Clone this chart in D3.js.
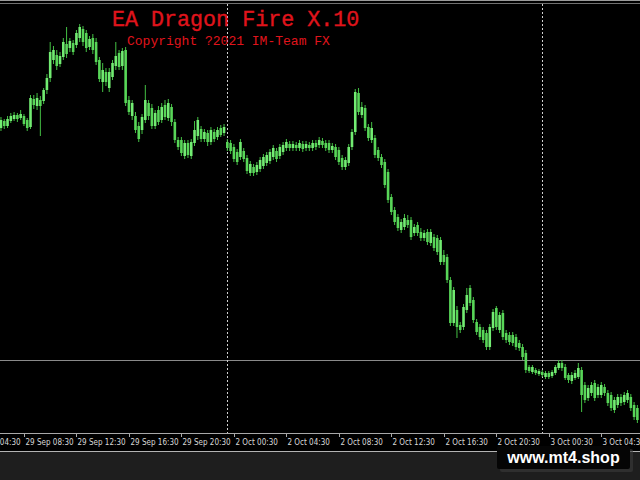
<!DOCTYPE html>
<html><head><meta charset="utf-8">
<script src="https://cdn.jsdelivr.net/npm/d3@7"></script>
<style>html,body{margin:0;padding:0;background:#000;overflow:hidden}</style>
</head><body>
<svg id="chart" width="640" height="480"></svg>
<script>
// ---- data ----
const sessions = [
  {day: "29 Sep", start: "06:45", bars: 69},
  {day: "2 Oct",  start: "00:00", bars: 96},
  {day: "3 Oct",  start: "00:00", bars: 30}
];
const tickLabels = ["29 Sep 04:30","29 Sep 08:30","29 Sep 12:30","29 Sep 16:30","29 Sep 20:30",
  "2 Oct 00:30","2 Oct 04:30","2 Oct 08:30","2 Oct 12:30","2 Oct 16:30","2 Oct 20:30",
  "3 Oct 00:30","3 Oct 04:30"];
const separatorDays = ["2 Oct", "3 Oct"];
const hLineLevel = 1764.0;
const titleText = "EA Dragon Fire X.10";
const subtitleText = "Copyright ?2021 IM-Team FX";
const watermarkText = "www.mt4.shop";

const barOpen = [
1787.2,1787.9,1787.4,1787.9,1788.1,1788.5,1788.2,1788.4,1788.0,1787.3,
1790.1,1789.4,1790.0,1789.9,1791.0,1792.2,1794.0,1794.5,1793.6,1794.3,
1795.6,1795.2,1795.7,1795.5,1796.2,1797.1,1796.7,1795.3,1796.2,1795.8,
1794.0,1791.8,1792.8,1791.2,1792.3,1793.4,1794.7,1793.4,1795.0,1790.0,
1788.4,1788.4,1787.4,1787.0,1788.0,1789.7,1789.2,1787.4,1789.0,1788.0,
1789.5,1788.2,1789.3,1787.8,1786.0,1786.0,1784.4,1785.7,1784.4,1785.7,
1786.4,1787.1,1786.1,1786.7,1785.8,1786.8,1786.3,1787.2,1786.7,1785.8,
1785.7,1785.3,1784.8,1784.3,1784.9,1784.2,1782.7,1783.3,1782.8,1783.1,
1783.4,1783.7,1783.9,1784.3,1784.9,1784.4,1784.8,1785.2,1785.6,1785.2,
1785.5,1785.2,1785.6,1785.2,1785.5,1785.2,1785.7,1785.5,1785.9,1785.7,
1785.7,1785.0,1785.3,1785.0,1784.2,1783.3,1783.7,1785.3,1786.8,1790.7,
1788.5,1789.2,1787.3,1786.0,1786.2,1785.0,1784.3,1783.8,1782.8,1780.3,
1779.0,1778.3,1777.0,1777.3,1778.0,1778.0,1776.7,1777.5,1776.8,1776.2,
1776.8,1775.7,1776.3,1776.2,1773.8,1774.5,1774.3,1772.0,1767.7,1769.0,
1767.5,1767.3,1769.0,1771.2,1770.0,1767.8,1767.3,1767.0,1766.7,1765.3,
1767.2,1769.2,1767.0,1768.7,1766.7,1766.5,1766.5,1766.3,1765.7,1765.3,
1764.7,1763.3,1762.8,1763.0,1762.6,1762.8,1762.3,1762.7,1762.4,1762.7,
1763.2,1763.7,1763.3,1762.5,1761.9,1762.2,1762.3,1763.0,1761.5,1760.2,
1760.7,1761.7,1760.5,1760.5,1761.3,1760.7,1760.5,1759.0,1759.5,1760.3,
1759.8,1760.0,1760.3,1759.5,1759.2];
const barHigh = [
1788.3,1788.1,1788.4,1788.7,1788.8,1788.7,1789.0,1788.6,1788.2,1790.5,
1790.5,1790.7,1790.4,1791.2,1792.6,1795.8,1795.4,1795.0,1794.8,1796.2,
1797.3,1796.2,1796.0,1797.0,1797.6,1797.4,1797.0,1796.4,1796.6,1796.2,
1794.3,1793.7,1793.2,1793.2,1794.0,1795.8,1795.0,1795.2,1795.3,1790.4,
1790.0,1788.8,1787.8,1788.6,1791.5,1790.0,1789.6,1789.0,1789.4,1789.7,
1790.0,1790.1,1789.6,1788.1,1786.3,1786.3,1786.0,1786.0,1786.1,1787.9,
1788.3,1787.4,1787.1,1787.0,1787.3,1787.1,1787.3,1787.5,1787.6,1786.1,
1786.0,1785.6,1785.1,1786.1,1785.2,1784.5,1783.9,1783.6,1783.8,1784.3,
1784.6,1784.8,1785.1,1785.5,1785.2,1785.6,1785.8,1786.1,1785.9,1785.9,
1785.8,1786.0,1785.9,1785.9,1785.8,1786.0,1786.0,1786.3,1786.2,1786.0,
1786.0,1785.7,1785.6,1785.3,1784.5,1784.3,1785.6,1787.1,1791.1,1791.2,
1789.8,1789.5,1787.6,1787.8,1786.5,1785.3,1784.6,1784.1,1783.1,1780.6,
1779.3,1778.6,1778.1,1778.6,1778.5,1778.3,1777.6,1777.8,1777.2,1777.0,
1777.1,1777.1,1776.6,1776.5,1776.3,1775.0,1774.6,1772.3,1771.3,1769.4,
1767.8,1769.6,1771.2,1771.5,1770.3,1768.1,1767.6,1767.3,1767.0,1767.6,
1769.1,1769.4,1768.8,1769.0,1767.0,1766.8,1766.8,1766.6,1766.0,1765.6,
1765.0,1763.5,1763.5,1763.2,1763.1,1763.0,1762.9,1762.9,1763.0,1763.5,
1764.0,1764.0,1763.6,1762.7,1762.8,1763.0,1763.7,1763.3,1761.8,1761.5,
1761.8,1762.0,1761.6,1761.8,1761.6,1761.0,1760.8,1760.3,1760.6,1760.6,
1760.8,1761.0,1760.6,1759.8,1759.5];
const barLow = [
1786.9,1787.1,1787.2,1787.7,1787.9,1787.8,1788.0,1787.4,1786.9,1787.1,
1789.1,1789.0,1786.4,1789.6,1790.6,1791.8,1793.6,1793.0,1793.3,1794.0,
1794.2,1794.8,1794.5,1795.2,1795.8,1795.4,1794.8,1795.0,1794.6,1793.5,
1791.8,1790.8,1791.4,1790.8,1792.0,1793.0,1793.0,1793.0,1789.4,1788.5,
1788.0,1786.7,1785.8,1786.6,1787.7,1788.0,1787.1,1787.1,1787.5,1787.7,
1788.0,1787.9,1787.4,1785.7,1785.0,1784.4,1784.1,1784.2,1784.1,1785.4,
1786.0,1785.8,1785.8,1785.4,1785.5,1785.8,1786.0,1786.3,1786.4,1784.9,
1784.6,1783.8,1783.5,1784.0,1783.8,1782.6,1782.4,1782.4,1782.5,1782.8,
1783.1,1783.4,1783.6,1784.0,1783.8,1784.1,1784.5,1784.9,1784.9,1784.9,
1784.9,1784.9,1784.8,1784.9,1784.9,1784.9,1785.0,1785.2,1785.2,1784.9,
1784.7,1784.7,1784.0,1783.5,1783.0,1783.0,1783.4,1785.0,1786.5,1788.5,
1788.2,1786.9,1785.9,1785.7,1784.2,1783.9,1783.2,1781.2,1779.7,1778.5,
1777.5,1776.9,1776.7,1777.0,1777.2,1776.0,1776.4,1776.4,1775.9,1775.9,
1775.5,1775.4,1774.9,1774.5,1773.5,1773.5,1771.7,1767.4,1767.4,1766.2,
1766.7,1767.0,1768.7,1769.4,1767.7,1766.5,1766.0,1765.7,1765.0,1765.0,
1766.9,1767.0,1766.7,1766.0,1765.7,1765.5,1765.4,1765.0,1764.9,1764.0,
1762.7,1762.7,1762.6,1762.5,1762.4,1762.3,1762.1,1762.1,1762.2,1762.5,
1763.0,1762.9,1762.0,1761.7,1761.6,1762.0,1762.1,1758.8,1759.7,1759.9,
1760.4,1759.9,1760.2,1760.2,1760.4,1759.4,1758.9,1758.7,1759.2,1759.4,
1759.5,1759.7,1758.9,1758.0,1757.7];
const barClose = [
1788.0,1787.4,1788.1,1788.4,1788.5,1788.1,1788.6,1787.6,1787.2,1790.2,
1789.5,1790.2,1789.4,1791.0,1792.2,1794.8,1795.0,1793.4,1794.4,1795.8,
1794.6,1795.9,1794.8,1796.7,1797.3,1795.8,1795.2,1796.1,1795.0,1793.8,
1792.1,1793.0,1791.8,1792.8,1793.7,1794.4,1793.3,1794.9,1789.7,1788.8,
1789.7,1787.0,1786.1,1788.3,1790.0,1788.4,1787.4,1788.7,1787.8,1789.3,
1788.3,1789.7,1787.8,1786.0,1785.3,1784.7,1785.7,1784.5,1785.8,1787.0,
1788.0,1786.1,1786.8,1785.8,1787.0,1786.1,1787.0,1786.5,1787.3,1785.2,
1784.9,1784.1,1783.8,1785.8,1784.1,1782.9,1783.6,1782.7,1783.5,1784.0,
1784.3,1784.5,1784.8,1785.2,1784.1,1785.3,1785.5,1785.8,1785.2,1785.6,
1785.2,1785.7,1785.1,1785.6,1785.2,1785.7,1785.3,1786.0,1785.5,1785.2,
1785.0,1785.4,1784.3,1783.8,1783.3,1784.0,1785.3,1786.8,1790.8,1788.8,
1789.3,1787.2,1786.2,1787.2,1784.5,1784.2,1783.5,1781.5,1780.0,1778.8,
1777.8,1777.2,1777.8,1778.2,1777.5,1776.3,1777.3,1776.7,1776.2,1776.7,
1775.8,1776.8,1775.2,1774.8,1776.0,1773.8,1772.0,1767.7,1771.0,1767.3,
1767.0,1769.3,1770.5,1769.7,1768.0,1766.8,1766.3,1766.0,1765.3,1767.3,
1768.8,1767.3,1768.5,1766.3,1766.0,1765.8,1765.7,1765.3,1765.2,1764.3,
1763.0,1762.9,1763.3,1762.7,1762.9,1762.5,1762.7,1762.3,1762.8,1763.3,
1763.7,1763.2,1762.2,1762.0,1762.5,1762.7,1763.2,1760.5,1760.0,1761.2,
1761.5,1760.2,1761.3,1761.5,1760.7,1759.7,1759.2,1760.0,1760.3,1759.7,
1760.5,1760.7,1759.2,1758.3,1758.0];

// ---- helpers ----
function mins(t){ const [h,m] = t.split(":").map(Number); return h*60+m; }
const sessionOffset = []; let acc = 0;
sessions.forEach(s => { sessionOffset.push(acc); acc += s.bars; });
function labelIndex(lbl){
  const p = lbl.split(" "); const day = p[0]+" "+p[1];
  const k = sessions.findIndex(s => s.day === day);
  return sessionOffset[k] + (mins(p[2]) - mins(sessions[k].start))/15;
}
const N = Math.min(barOpen.length, barHigh.length, barLow.length, barClose.length);
const bars = d3.range(N).map(i => ({i, o: barOpen[i], h: barHigh[i], l: barLow[i], c: barClose[i]}));

const W = 640, H = 480, plotTop = 4, plotBottom = 433;
const x = d3.scaleLinear().domain([-0.3, N - 0.2]).range([0, W]);
const y = d3.scaleLinear().domain([1756.8, 1800]).range([432, 0]);

const svg = d3.select("#chart");
svg.append("rect").attr("width", W).attr("height", H).attr("fill", "#000");
svg.append("rect").attr("x",0).attr("y",452).attr("width",W).attr("height",28).attr("fill","#1e1e1e");
svg.append("line").attr("x1",0).attr("x2",W).attr("y1",451.5).attr("y2",451.5).attr("stroke","#b4b4b4");
svg.append("line").attr("x1",0).attr("x2",W).attr("y1",0.5).attr("y2",0.5).attr("stroke","#9a9a9a");
svg.append("line").attr("x1",0).attr("x2",W).attr("y1",3.5).attr("y2",3.5).attr("stroke","#707070");

svg.append("clipPath").attr("id","plot").append("rect")
  .attr("x",0).attr("y",plotTop).attr("width",W).attr("height",plotBottom-plotTop);
const plot = svg.append("g").attr("clip-path","url(#plot)");

plot.append("line").attr("x1",0).attr("x2",W)
  .attr("y1", Math.round(y(hLineLevel))+0.5).attr("y2", Math.round(y(hLineLevel))+0.5)
  .attr("stroke","#8a8a8a").attr("stroke-width",1);

separatorDays.forEach(d => {
  const k = sessions.findIndex(s => s.day === d);
  const xx = Math.round(x(sessionOffset[k])) + 0.5;
  plot.append("line").attr("x1",xx).attr("x2",xx).attr("y1",plotTop).attr("y2",plotBottom)
    .attr("stroke","#d0d0d0").attr("stroke-dasharray","2,2");
});

const bw = 2.6;
const g = plot.append("g");
g.selectAll("line.wick").data(bars).join("line").attr("class","wick")
  .attr("x1", d => x(d.i)).attr("x2", d => x(d.i))
  .attr("y1", d => y(d.h)).attr("y2", d => y(d.l))
  .attr("stroke", "#44c044").attr("stroke-width", 1);
g.selectAll("rect.body").data(bars).join("rect").attr("class","body")
  .attr("x", d => x(d.i) - bw/2).attr("width", bw)
  .attr("y", d => y(Math.max(d.o, d.c)))
  .attr("height", d => Math.max(1, Math.abs(y(d.o) - y(d.c))))
  .attr("fill", d => d.c >= d.o ? "#72ec72" : "#58d658");

svg.append("line").attr("x1",0).attr("x2",W).attr("y1",433.5).attr("y2",433.5).attr("stroke","#a8a8a8");
const ax = svg.append("g");
tickLabels.forEach(lbl => {
  const xx = Math.round(x(labelIndex(lbl))) + 0.5;
  ax.append("line").attr("x1",xx).attr("x2",xx).attr("y1",433).attr("y2",437).attr("stroke","#a8a8a8");
  ax.append("text").attr("x", xx + 1).attr("y", 444.5)
    .attr("font-family","'DejaVu Sans Condensed','Liberation Sans',sans-serif").attr("font-size","8px")
    .attr("fill","#d8d8d8").text(lbl);
});

svg.append("text").attr("x",112).attr("y",26)
  .attr("font-family","'Liberation Mono','Courier New',monospace").attr("font-size","21.7px")
  .attr("fill","#e0141c").attr("stroke","#e0141c").attr("stroke-width",0.35).text(titleText);
svg.append("text").attr("x",127).attr("y",45)
  .attr("font-family","'Liberation Mono','Courier New',monospace").attr("font-size","13px")
  .attr("fill","#e0141c").text(subtitleText);

svg.append("rect").attr("x",500).attr("y",449).attr("width",133).attr("height",23).attr("rx",2).attr("fill","#3a3a3a").attr("opacity",0.6);
svg.append("rect").attr("x",497).attr("y",446).attr("width",133).attr("height",23).attr("rx",2).attr("fill","#050505");
svg.append("text").attr("x",563.5).attr("y",462.5).attr("text-anchor","middle")
  .attr("font-family","'Liberation Sans',Arial,sans-serif").attr("font-weight","bold").attr("font-size","16px")
  .attr("fill","#ffffff").text(watermarkText);
</script>
</body></html>
